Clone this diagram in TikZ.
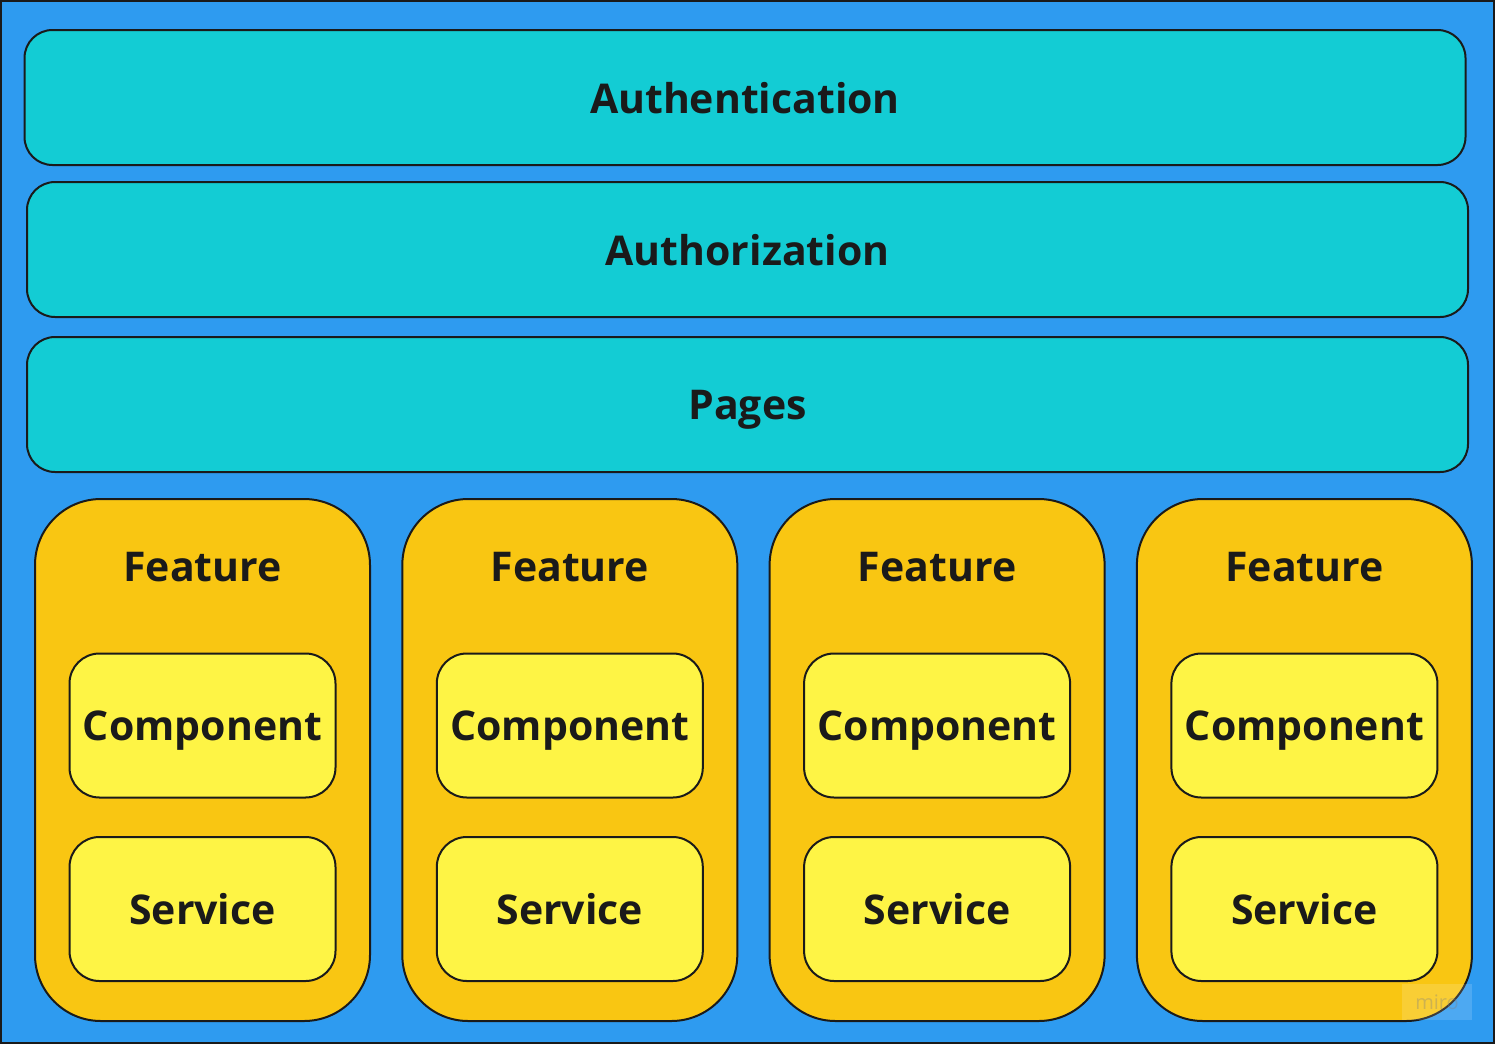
\documentclass[tikz,border=0pt]{standalone}
\usepackage{fontspec}
\setmainfont{Open Sans}
\usepackage{xcolor}
\usetikzlibrary{positioning,calc}
\definecolor{Ink}{HTML}{1A1A1A}
\definecolor{Sky}{HTML}{2E9BF0}
\definecolor{Cyan}{HTML}{13CCD4}
\definecolor{Amber}{HTML}{F9C612}
\definecolor{Lemon}{HTML}{FEF445}
\tikzset{
  every node/.style={inner sep=0pt, text=Ink, text depth=0pt,
    font=\bfseries\fontsize{41}{46}\selectfont},
  layer/.style={draw=Ink, line width=2pt, fill=Cyan, rounded corners=28pt,
    minimum width=1441pt, minimum height=135pt},
  featbox/.style={draw=Ink, line width=2pt, fill=Amber, rounded corners=66pt,
    minimum width=335pt, minimum height=522pt},
  part/.style={draw=Ink, line width=2pt, fill=Lemon, rounded corners=30pt,
    minimum width=266pt, minimum height=144pt},
}

\begin{document}
\begin{tikzpicture}[x=1pt, y=-1pt]
    \useasboundingbox (0,0) rectangle (1495,1044);
    \draw[fill=Sky, draw=Ink, line width=2pt] (1,1) rectangle (1494,1043);
    % top layers
    \node[layer] (auth) at (745,97.5) {Authentication};
    \node[layer] (authz) at (747.5,249.5) {Authorization};
    \node[layer] (pages) at (747.5,404.5) {Pages};
    % features
    \foreach \i in {0,1,2,3} {
      \node[featbox] (f\i) at (202.5+367.3*\i,760) {};
      \node (ft\i) at (202.5+367.3*\i,567) {Feature};
      \node[part] (c\i) at (202.5+367.3*\i,725.5) {Component};
      \node[part] (s\i) at (202.5+367.3*\i,909) {Service};
    }
    % watermark
    \node[fill=white, fill opacity=0.15, text opacity=0.35, text=gray,
      minimum width=70pt, minimum height=36pt,
      font=\fontsize{20}{22}\selectfont] (miro) at (1437,1002) {miro};
  \end{tikzpicture}
\end{document}
